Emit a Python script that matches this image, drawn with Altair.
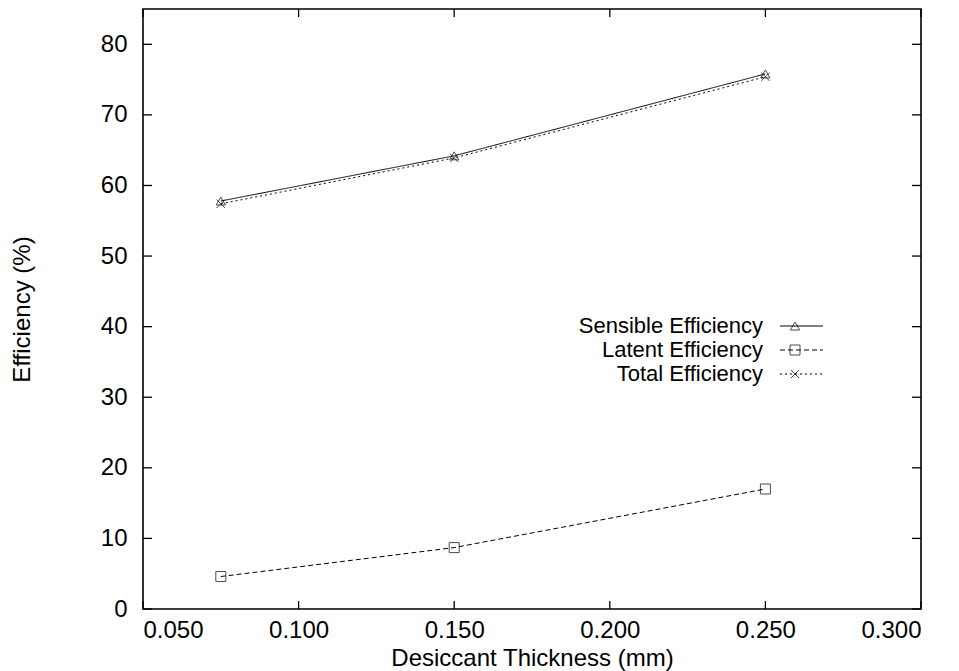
import altair as alt
import pandas as pd

thickness = [0.075, 0.150, 0.250]
sensible = [57.8, 64.2, 75.8]
latent = [4.6, 8.7, 17.0]
total = [57.4, 63.9, 75.4]
series_names = ["Sensible Efficiency", "Latent Efficiency", "Total Efficiency"]
x_ticks = [0.05, 0.10, 0.15, 0.20, 0.25, 0.30]
y_ticks = [0, 10, 20, 30, 40, 50, 60, 70, 80]

FONT = "Liberation Sans"
FS = 24
W, H = 778, 600

rows = []
for name, vals in zip(series_names, [sensible, latent, total]):
    for t, v in zip(thickness, vals):
        rows.append({"series": name, "t": t, "v": v})
df = pd.DataFrame(rows)

xs = alt.Scale(domain=[0.05, 0.30], nice=False, zero=False)
ys = alt.Scale(domain=[0, 85], nice=False)

xaxis = alt.Axis(values=x_ticks, format=".3f", ticks=False, domain=False, grid=False,
                 labelFontSize=FS, labelFont=FONT, labelColor="black", labelPadding=9,
                 title="Desiccant Thickness (mm)", titleFont=FONT, titleFontSize=FS,
                 titleFontWeight="normal", titleColor="black", titleX=W / 2, titleY=49,
                 titleBaseline="middle")
yaxis = alt.Axis(values=y_ticks, format="d", ticks=False, domain=False, grid=False,
                 labelFontSize=FS, labelFont=FONT, labelColor="black", labelPadding=16,
                 title="Efficiency (%)", titleFont=FONT, titleFontSize=FS,
                 titleFontWeight="normal", titleColor="black", titleX=-121, titleY=H / 2,
                 titleAngle=-90, titleBaseline="middle", titleAlign="center")

styles = {
    "Sensible Efficiency": dict(dash=[1, 0], shape="triangle-up", size=85),
    "Latent Efficiency": dict(dash=[5, 3], shape="square", size=100),
    "Total Efficiency": dict(dash=[2, 3], shape="M-1,-1L1,1M1,-1L-1,1", size=70),
}

layers = []
for name in series_names:
    st = styles[name]
    sub = df[df.series == name]
    base = alt.Chart(sub)
    layers.append(base.mark_line(color="black", strokeWidth=1, strokeDash=st["dash"]).encode(
        x=alt.X("t:Q", scale=xs, axis=xaxis), y=alt.Y("v:Q", scale=ys, axis=yaxis)))
    layers.append(base.mark_point(shape=st["shape"], filled=False, color="black", size=st["size"],
                                  strokeWidth=1).encode(
        x=alt.X("t:Q", scale=xs), y=alt.Y("v:Q", scale=ys)))

# inward mirrored ticks
xt = alt.Chart(pd.DataFrame({"t": x_ticks}))
yt = alt.Chart(pd.DataFrame({"v": y_ticks}))
layers.append(xt.mark_rule(color="black", strokeWidth=1.3).encode(
    x=alt.X("t:Q", scale=xs), y=alt.value(H), y2=alt.value(H - 8)))
layers.append(xt.mark_rule(color="black", strokeWidth=1.3).encode(
    x=alt.X("t:Q", scale=xs), y=alt.value(0), y2=alt.value(8)))
layers.append(yt.mark_rule(color="black", strokeWidth=1.3).encode(
    y=alt.Y("v:Q", scale=ys), x=alt.value(0), x2=alt.value(9)))
layers.append(yt.mark_rule(color="black", strokeWidth=1.3).encode(
    y=alt.Y("v:Q", scale=ys), x=alt.value(W), x2=alt.value(W - 9)))

# manual legend (gnuplot style: label then sample)
leg_y = [317, 341, 365]
one = pd.DataFrame({"a": [0]})
for name, ly in zip(series_names, leg_y):
    st = styles[name]
    layers.append(alt.Chart(one).mark_text(align="right", baseline="middle", font=FONT,
                                           fontSize=22, color="black", text=name).encode(
        x=alt.value(620), y=alt.value(ly)))
    layers.append(alt.Chart(one).mark_rule(color="black", strokeWidth=1,
                                           strokeDash=st["dash"]).encode(
        x=alt.value(637), x2=alt.value(680), y=alt.value(ly)))
    layers.append(alt.Chart(one).mark_point(shape=st["shape"], filled=False, color="black",
                                            size=st["size"], strokeWidth=1).encode(
        x=alt.value(652), y=alt.value(ly)))

chart = alt.layer(*layers).properties(
    width=W, height=H,
    autosize=alt.AutoSizeParams(type="none"),
    padding={"left": 143, "top": 9, "right": 38, "bottom": 62},
    background="white",
).configure_view(stroke="black", strokeWidth=1.6)

chart.save("out.html", embed_options={"renderer": "svg", "actions": False})
